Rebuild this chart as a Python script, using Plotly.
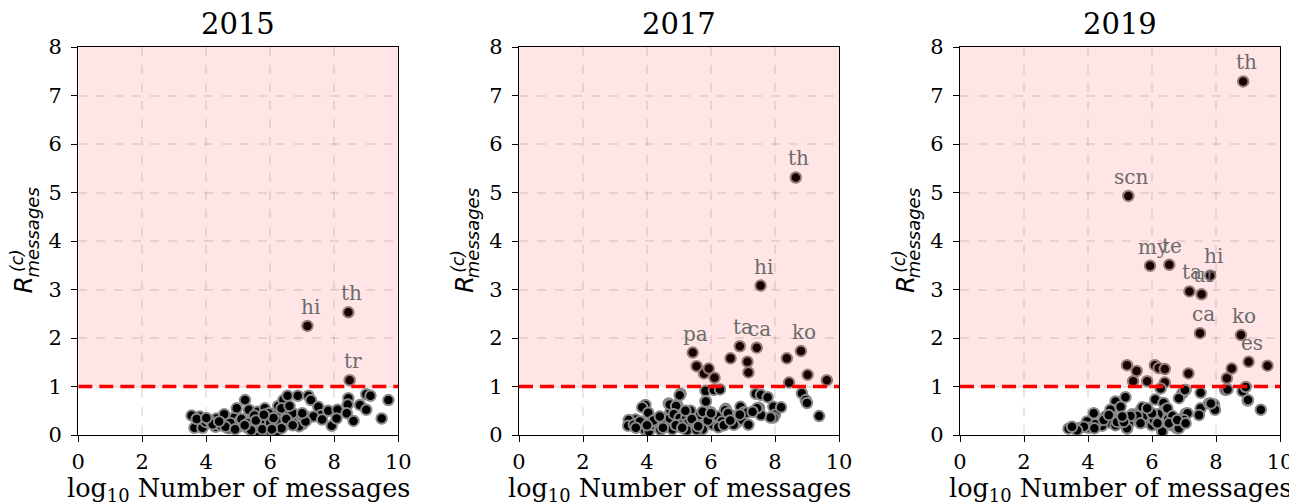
import plotly.graph_objects as go

# target window 1297x502; the html page puts the figure 8px in from the corner
WIN_W, WIN_H = 1297, 502
PAGE_OFF = 8
W, H = WIN_W - PAGE_OFF, WIN_H - PAGE_OFF

years = ["2015", "2017", "2019"]

# ---------------- 2015 ----------------
x2015 = [3.54, 3.63, 3.80, 3.88, 3.98, 4.29, 4.32, 4.56, 4.56, 4.69, 4.88, 4.95, 5.00, 5.05,
         5.21, 5.29, 5.33, 5.42, 5.57, 5.60, 5.83, 5.89, 5.89, 6.06, 6.13, 6.25, 6.30, 6.41,
         6.46, 6.46, 6.54, 6.77, 6.86, 6.93, 7.03, 7.19, 7.27, 7.19, 7.50, 7.58, 7.81, 7.92,
         8.10, 8.07, 8.44, 8.42, 8.39, 8.60, 8.80, 9.00, 9.13, 9.00, 9.48, 9.69,
         5.15, 5.50, 5.70, 5.95, 6.20, 6.60, 6.70, 4.45, 4.75, 4.10, 3.70, 5.95, 6.20, 5.60,
         7.00, 7.35, 6.35, 6.60, 4.20, 4.60, 4.90, 5.10, 5.30, 5.75, 6.00, 6.35, 6.90, 7.10,
         5.40, 6.10, 6.50, 4.00, 4.40, 5.20, 5.55, 5.80, 6.05, 6.70, 7.62, 7.00]
y2015 = [0.40, 0.15, 0.38, 0.15, 0.27, 0.17, 0.34, 0.27, 0.43, 0.14, 0.36, 0.55, 0.17, 0.29,
         0.72, 0.15, 0.52, 0.31, 0.22, 0.48, 0.55, 0.34, 0.15, 0.43, 0.21, 0.60, 0.38, 0.72,
         0.49, 0.21, 0.81, 0.36, 0.81, 0.41, 0.31, 0.81, 0.72, 0.36, 0.58, 0.41, 0.50, 0.19,
         0.52, 0.34, 0.76, 0.63, 0.45, 0.29, 0.62, 0.84, 0.81, 0.52, 0.34, 0.72,
         0.25, 0.40, 0.27, 0.45, 0.30, 0.25, 0.45, 0.20, 0.25, 0.30, 0.33, 0.10, 0.07, 0.08,
         0.22, 0.38, 0.55, 0.60, 0.22, 0.17, 0.12, 0.33, 0.24, 0.12, 0.25, 0.14, 0.18, 0.28,
         0.10, 0.35, 0.33, 0.35, 0.28, 0.20, 0.30, 0.42, 0.12, 0.20, 0.32, 0.45]
lab2015 = ["hi", "th", "tr"]
labx2015 = [7.16, 8.44, 8.48]
laby2015 = [2.25, 2.53, 1.13]

# ---------------- 2017 ----------------
x2017 = [5.55, 5.78, 5.93, 6.11, 6.61, 7.14, 7.17, 8.37, 8.44, 9.02, 9.62,
         5.83, 6.09, 6.28, 5.05, 5.83, 4.68, 4.94, 3.95, 3.85, 4.04, 3.64, 3.43, 3.85, 4.06,
         4.37, 4.58, 4.74, 4.89, 5.15, 5.36, 5.57, 5.72, 5.99, 6.12, 6.30, 6.46, 6.61, 6.77,
         6.92, 7.03, 7.40, 7.56, 7.77, 7.50, 7.55, 7.95, 8.00, 7.95, 8.84, 8.96, 9.00, 9.38,
         3.41, 3.59, 3.78, 3.93, 4.06, 4.16, 4.37, 4.58, 4.72, 4.71, 4.91, 4.84, 5.02, 5.23,
         5.30, 5.55, 5.66, 5.74, 5.84, 5.74, 6.06, 6.08, 6.23, 6.34, 6.44, 6.65, 6.82, 6.95,
         7.17, 6.23, 5.02, 4.79, 4.42, 5.25, 5.55, 7.86, 7.56, 7.44, 8.19, 6.71, 7.11, 6.53,
         4.20, 4.50, 4.90, 5.10, 5.40, 5.60, 5.90, 6.00, 6.40, 6.60, 6.90, 7.30, 5.20, 4.40,
         3.65, 4.00, 5.02]
y2017 = [1.42, 1.27, 1.37, 1.18, 1.58, 1.51, 1.29, 1.58, 1.08, 1.24, 1.13,
         0.91, 0.93, 0.94, 0.85, 0.70, 0.65, 0.62, 0.62, 0.57, 0.46, 0.32, 0.31, 0.25, 0.15,
         0.22, 0.36, 0.50, 0.33, 0.43, 0.50, 0.33, 0.14, 0.47, 0.37, 0.27, 0.54, 0.41, 0.24,
         0.58, 0.47, 0.85, 0.83, 0.78, 0.56, 0.42, 0.58, 0.42, 0.36, 0.86, 0.72, 0.66, 0.39,
         0.19, 0.21, 0.28, 0.11, 0.08, 0.21, 0.21, 0.27, 0.34, 0.63, 0.60, 0.43, 0.35, 0.37,
         0.26, 0.26, 0.42, 0.48, 0.69, 0.12, 0.21, 0.38, 0.38, 0.28, 0.51, 0.38, 0.27, 0.32,
         0.21, 0.16, 0.21, 0.12, 0.11, 0.10, 0.11, 0.36, 0.41, 0.55, 0.57, 0.21, 0.46, 0.45,
         0.30, 0.15, 0.20, 0.15, 0.33, 0.18, 0.30, 0.45, 0.20, 0.30, 0.42, 0.48, 0.50, 0.38,
         0.15, 0.20, 0.82]
lab2017 = ["th", "hi", "pa", "ta", "ca", "ko"]
labx2017 = [8.65, 7.55, 5.43, 6.90, 7.43, 8.81]
laby2017 = [5.31, 3.08, 1.70, 1.83, 1.80, 1.73]

# ---------------- 2019 ----------------
x2019 = [9.61, 5.22, 5.52, 5.41, 5.85, 6.09, 6.21, 6.40, 6.40, 7.14, 8.34, 8.49,
         8.29, 8.83, 8.93, 8.99, 9.40, 7.52, 7.05, 6.95, 6.84, 6.10, 6.36, 6.41, 5.17, 4.86,
         4.75, 4.18, 3.97, 7.52, 7.47, 7.78, 7.94, 7.97, 7.05, 6.84, 6.30, 6.51, 6.20, 5.85,
         5.64, 5.48, 5.27, 4.96, 4.65, 4.44, 4.23, 4.02, 3.76, 3.60, 3.39, 4.54, 5.75, 6.00,
         6.62, 6.78, 5.22, 4.86, 5.38, 6.05, 5.70, 6.27, 7.03, 5.02, 4.70, 6.48, 7.84, 7.11,
         7.00, 6.84, 6.64, 6.32, 6.06, 5.83, 5.73, 5.54, 5.64, 5.33, 5.22, 4.91, 4.49, 4.20,
         3.87, 3.66, 3.50, 5.12, 5.07, 6.17, 6.53, 6.79, 7.05, 4.65, 6.00, 5.85, 8.36, 9.00]
y2019 = [1.43, 1.44, 1.32, 1.11, 1.11, 1.44, 1.38, 1.36, 1.08, 1.27, 1.17, 1.37,
         0.93, 0.90, 0.99, 0.71, 0.52, 0.87, 0.93, 0.86, 0.76, 0.73, 0.66, 0.52, 0.78, 0.69,
         0.52, 0.45, 0.28, 0.55, 0.41, 0.65, 0.63, 0.52, 0.44, 0.32, 0.14, 0.33, 0.43, 0.43,
         0.50, 0.33, 0.23, 0.33, 0.26, 0.19, 0.22, 0.15, 0.15, 0.12, 0.13, 0.38, 0.27, 0.20,
         0.20, 0.14, 0.13, 0.20, 0.43, 0.33, 0.57, 0.96, 0.93, 0.58, 0.52, 0.55, 0.65, 0.45,
         0.31, 0.14, 0.39, 0.07, 0.31, 0.46, 0.38, 0.39, 0.24, 0.39, 0.14, 0.27, 0.31, 0.14,
         0.17, 0.10, 0.17, 0.27, 0.38, 0.24, 0.24, 0.31, 0.24, 0.41, 0.45, 0.55, 0.94, 0.72]
lab2019 = ["th", "scn", "my", "te", "ta", "ur", "hi", "ca", "ko", "es"]
labx2019 = [8.85, 5.26, 5.94, 6.54, 7.17, 7.55, 7.82, 7.50, 8.78, 9.02]
laby2019 = [7.29, 4.93, 3.49, 3.51, 2.96, 2.90, 3.29, 2.10, 2.06, 1.51]

xticks = [0, 2, 4, 6, 8, 10]
yticks = [0, 1, 2, 3, 4, 5, 6, 7, 8]
threshold = 1.0

panels = [
    (x2015, y2015, lab2015, labx2015, laby2015),
    (x2017, y2017, lab2017, labx2017, laby2017),
    (x2019, y2019, lab2019, labx2019, laby2019),
]

# window-pixel layout of the three panels
px_left = [78.3, 519.0, 960.0]
px_w = 320.0
py_top, py_bot = 47.0, 435.0


def fx(px):  # window x pixel -> paper fraction
    return (px - PAGE_OFF) / W


def fy(py):  # window y pixel -> paper fraction
    return 1 - (py - PAGE_OFF) / H


SERIF = "DejaVu Serif"
fig = go.Figure()
annotations = []
shapes = []
layout = {}

for i, (xs, ys, labs, lx, ly) in enumerate(panels):
    suf = "" if i == 0 else str(i + 1)
    xa, ya = "x" + suf, "y" + suf
    fig.add_trace(go.Scatter(
        x=list(xs) + list(lx), y=list(ys) + list(ly), mode="markers",
        xaxis=xa, yaxis=ya, showlegend=False,
        marker=dict(color="black", size=10.5, line=dict(color="#8a8a8a", width=2)),
        hoverinfo="skip"))
    axcommon = dict(showline=True, linecolor="black", linewidth=1.3, mirror=True,
                    ticks="outside", ticklen=6, tickwidth=1.3, tickcolor="black",
                    showgrid=True, gridcolor="rgba(0,0,0,0.09)", gridwidth=2, griddash="dash",
                    zeroline=False, automargin=False,
                    tickfont=dict(family=SERIF, size=21, color="black"))
    layout["xaxis" + suf] = dict(axcommon, domain=[fx(px_left[i]), fx(px_left[i] + px_w)],
                                 range=[0, 10], tickvals=xticks, anchor=ya, ticklabelstandoff=2)
    layout["yaxis" + suf] = dict(axcommon, domain=[fy(py_bot), fy(py_top)],
                                 range=[0, 8], tickvals=yticks, anchor=xa, ticklabelstandoff=5)
    # shaded region above threshold
    shapes.append(dict(type="rect", xref=xa, yref=ya, x0=0, x1=10, y0=threshold, y1=8,
                       fillcolor="rgba(255,0,0,0.1)", line=dict(width=0), layer="above"))
    shapes.append(dict(type="line", xref=xa, yref=ya, x0=0, x1=10, y0=threshold, y1=threshold,
                       line=dict(color="red", width=3.5, dash="14px,7px"), layer="above"))
    # point labels
    for t, xv, yv in zip(labs, lx, ly):
        annotations.append(dict(x=xv, y=yv, xref=xa, yref=ya, text=t, showarrow=False,
                                xshift=3, yshift=19, xanchor="center", yanchor="middle",
                                font=dict(family=SERIF, size=20, color="#6b6b6b")))
    cx = px_left[i] + px_w / 2
    # panel title
    annotations.append(dict(x=fx(cx), y=fy(24), xref="paper", yref="paper", text=years[i],
                            showarrow=False, xanchor="center", yanchor="middle",
                            font=dict(family=SERIF, size=29, color="black")))
    # x axis title
    annotations.append(dict(x=fx(cx), y=fy(489), xref="paper", yref="paper",
                            text="log<sub>10</sub> Number of messages",
                            showarrow=False, xanchor="center", yanchor="middle",
                            font=dict(family=SERIF, size=25.5, color="black")))
    # y axis title: R^(c)_messages
    off = px_left[i] - 78.3
    annotations.append(dict(x=fx(off + 23.4), y=fy(285), xref="paper", yref="paper",
                            text="<i>R</i>", textangle=-90, showarrow=False,
                            xanchor="center", yanchor="middle",
                            font=dict(family="DejaVu Sans", size=25, color="black")))
    annotations.append(dict(x=fx(off + 17.0), y=fy(261), xref="paper", yref="paper",
                            text="<i>(c)</i>", textangle=-90, showarrow=False,
                            xanchor="center", yanchor="middle",
                            font=dict(family="DejaVu Sans", size=17, color="black")))
    annotations.append(dict(x=fx(off + 31.5), y=fy(233), xref="paper", yref="paper",
                            text="<i>messages</i>", textangle=-90, showarrow=False,
                            xanchor="center", yanchor="middle",
                            font=dict(family="DejaVu Sans", size=18, color="black")))

fig.update_layout(**layout)
fig.update_layout(width=W, height=H,
                  margin=dict(l=0, r=0, t=0, b=0, pad=0, autoexpand=False),
                  paper_bgcolor="white", plot_bgcolor="white",
                  annotations=annotations, shapes=shapes, showlegend=False)

fig.write_html("out.html")
